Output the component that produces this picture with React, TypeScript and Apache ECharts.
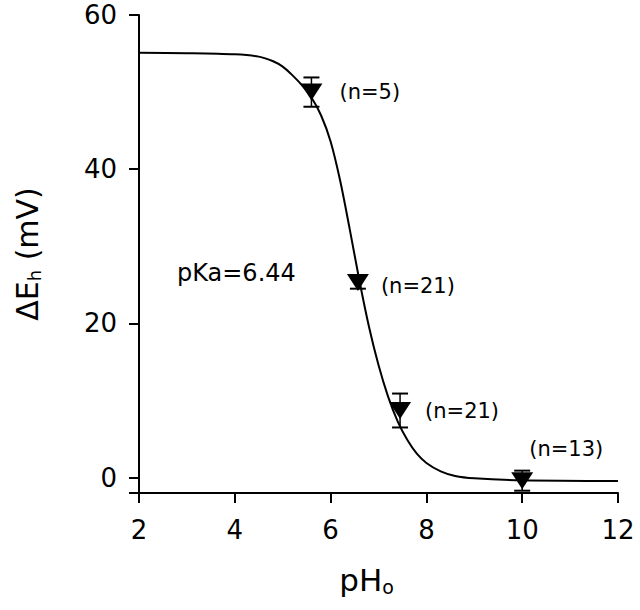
import React, { useEffect, useRef } from "react";
import * as echarts from "echarts";

// Measured points (pHo, ΔEh mean, SEM, n label)
const phValues = [5.6, 6.57, 7.45, 10.0];
const deltaEh = [50.0, 25.3, 8.7, -0.4];
const semValues = [1.9, 0.8, 2.2, 1.3];
const nLabels = ["(n=5)", "(n=21)", "(n=21)", "(n=13)"];

// Fitted curve
const fitX = [2.0, 3.0, 4.0, 4.5, 4.8, 5.0, 5.2, 5.4, 5.6, 5.8, 6.0, 6.2, 6.4, 6.6, 6.8, 7.0, 7.2, 7.4, 7.6, 7.8, 8.0, 8.3, 8.6, 9.0, 10.0, 12.0];
const fitY = [55.1, 55.05, 54.9, 54.6, 54.0, 53.3, 52.2, 50.9, 49.3, 47.0, 43.6, 38.5, 32.2, 25.6, 19.6, 14.6, 10.5, 7.3, 4.9, 3.1, 1.9, 0.8, 0.2, -0.1, -0.35, -0.45];

const xTicks = [2, 4, 6, 8, 10, 12];
const yTickMarks = [-2, 0, 20, 40, 60];
const yTickLabels = [0, 20, 40, 60];
const pKaText = "pKa=6.44";

// label placement relative to marker (layout only)
const labelOffsets = [
  [28, 0],
  [23, 3],
  [25, 0],
  [7, -32],
];

const FONT = "DejaVu Sans";

export default function App() {
  const ref = useRef<HTMLDivElement>(null);
  useEffect(() => {
    document.body.style.margin = "0";
    const chart = echarts.init(ref.current!, null, { renderer: "svg" });
    const symW = 22;
    const symH = 17;
    chart.setOption({
      animation: false,
      backgroundColor: "#fff",
      textStyle: { fontFamily: FONT, color: "#000" },
      grid: { left: 139, right: 22, top: 15, bottom: 117, containLabel: false },
      xAxis: {
        type: "value",
        min: xTicks[0],
        max: xTicks[xTicks.length - 1],
        interval: 2,
        name: "{a|pH}{s|o}",
        nameLocation: "middle",
        nameGap: 70,
        nameTextStyle: {
          padding: [0, 24, 0, 0],
          rich: {
            a: { fontFamily: FONT, fontSize: 31, color: "#000" },
            s: { fontFamily: FONT, fontSize: 19, color: "#000", padding: [14, 0, 0, 0] },
          },
        },
        axisLine: { onZero: false, lineStyle: { color: "#000", width: 2 } },
        axisTick: { length: 10, lineStyle: { color: "#000", width: 2 } },
        axisLabel: { color: "#000", fontFamily: FONT, fontSize: 26, margin: 24 },
        splitLine: { show: false },
      },
      yAxis: {
        type: "value",
        min: yTickMarks[0],
        max: yTickMarks[yTickMarks.length - 1],
        name: "{a|ΔE}{s|h}{a| (mV)}",
        nameLocation: "middle",
        nameGap: 96,
        nameTextStyle: {
          rich: {
            a: { fontFamily: FONT, fontSize: 30, color: "#000" },
            s: { fontFamily: FONT, fontSize: 18, color: "#000", padding: [14, 0, 0, 0] },
          },
        },
        axisLine: { onZero: false, lineStyle: { color: "#000", width: 2 } },
        axisTick: { length: 10, customValues: yTickMarks, lineStyle: { color: "#000", width: 2 } },
        axisLabel: { color: "#000", fontFamily: FONT, fontSize: 26, margin: 22, customValues: yTickLabels },
        splitLine: { show: false },
      },
      graphic: [
        {
          type: "text",
          x: 177,
          y: 273,
          style: {
            text: pKaText,
            fontFamily: FONT,
            fontSize: 24,
            fill: "#000",
            verticalAlign: "middle",
            align: "left",
          },
        },
      ],
      series: [
        {
          type: "line",
          data: fitX.map((x, i) => [x, fitY[i]]),
          showSymbol: false,
          smooth: 0.3,
          lineStyle: { color: "#000", width: 2 },
          silent: true,
          z: 2,
        },
        {
          type: "custom",
          data: phValues.map((x, i) => [x, deltaEh[i], semValues[i]]),
          encode: { x: 0, y: 1 },
          z: 3,
          renderItem: (params: any, api: any) => {
            const x = api.value(0);
            const y = api.value(1);
            const e = api.value(2);
            const top = api.coord([x, y + e]);
            const bot = api.coord([x, y - e]);
            const hw = 8;
            return {
              type: "group",
              children: [
                { type: "line", shape: { x1: top[0], y1: top[1], x2: bot[0], y2: bot[1] }, style: { stroke: "#000", lineWidth: 1.5 } },
                { type: "line", shape: { x1: top[0] - hw, y1: top[1], x2: top[0] + hw, y2: top[1] }, style: { stroke: "#000", lineWidth: 2 } },
                { type: "line", shape: { x1: bot[0] - hw, y1: bot[1], x2: bot[0] + hw, y2: bot[1] }, style: { stroke: "#000", lineWidth: 2 } },
              ],
            };
          },
        },
        {
          type: "scatter",
          z: 4,
          symbol: "triangle",
          symbolRotate: 180,
          symbolSize: [symW, symH],
          itemStyle: { color: "#000", opacity: 1 },
          data: phValues.map((x, i) => ({
            value: [x, deltaEh[i]],
            label: {
              show: true,
              formatter: nLabels[i],
              position: [labelOffsets[i][0] + symW / 2, labelOffsets[i][1] + symH / 2],
              align: "left",
              verticalAlign: "middle",
              fontFamily: FONT,
              fontSize: 21,
              color: "#000",
              opacity: 1,
            },
          })),
        },
      ],
    });
    return () => chart.dispose();
  }, []);
  return <div ref={ref} style={{ width: 640, height: 610 }} />;
}
